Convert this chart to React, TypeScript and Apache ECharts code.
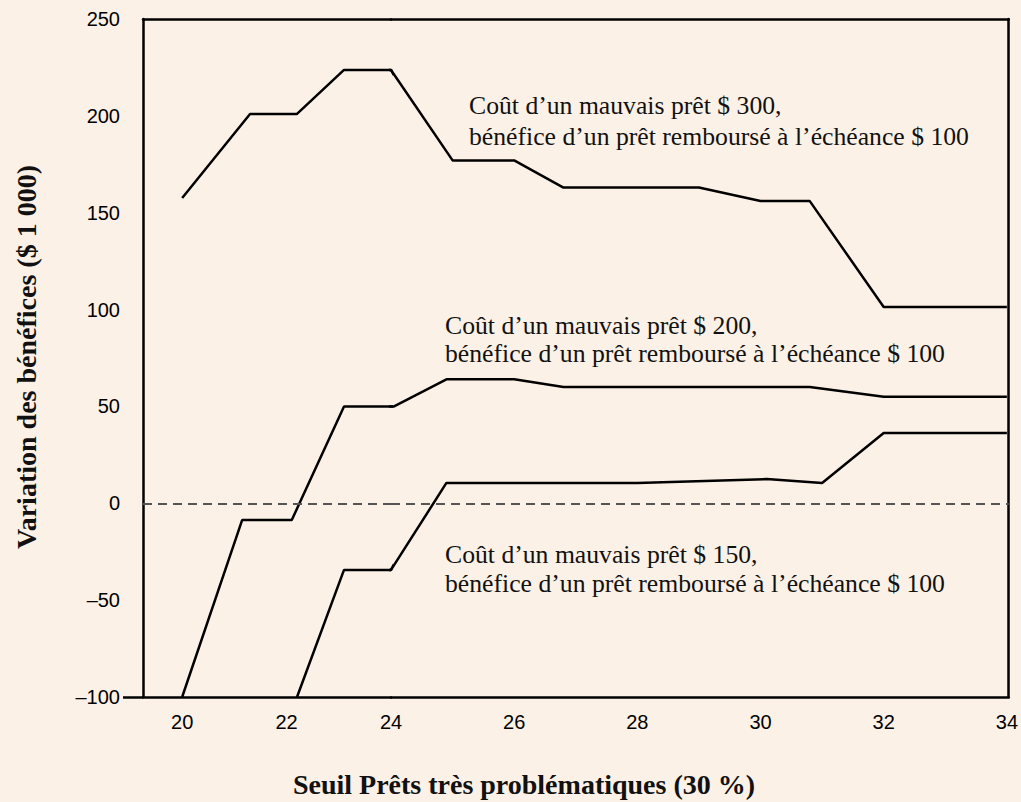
import React, { useEffect, useRef } from "react";
import * as echarts from "echarts";

// ---- data ----
// Curve: cost of a bad loan $300
const xTop = [20, 21.3, 22.2, 23.1, 24, 25, 26, 26.8, 29, 30, 30.8, 32, 34];
const yTop = [157.6, 201, 201, 223.7, 223.7, 177, 177, 163, 163, 156, 156, 101.3, 101.3];
// Curve: cost of a bad loan $200
const xMid = [20, 21.15, 22.1, 23.1, 24.05, 24.9, 26, 26.8, 30.8, 32, 34];
const yMid = [-100, -8.6, -8.6, 50, 50, 64, 64, 60, 60, 55, 55];
// Curve: cost of a bad loan $150
const xLow = [22.2, 23.1, 24, 24.9, 28, 30.1, 31, 32, 34];
const yLow = [-100, -34.4, -34.4, 10.5, 10.5, 12.5, 10.5, 36.3, 36.3];

const xTickValues = [20, 22, 24, 26, 28, 30, 32, 34];
const yMin = -100;
const yMax = 250;
const yStep = 50;
// the reference axis is drawn with two linear pieces, joined at this value
const xBreak = 24;
const xMinLeft = 19.25;
const xMaxRight = 34.03;

const annotationLines = [
  ["Coût d’un mauvais prêt $ 300,", "bénéfice d’un prêt remboursé à l’échéance $ 100"],
  ["Coût d’un mauvais prêt $ 200,", "bénéfice d’un prêt remboursé à l’échéance $ 100"],
  ["Coût d’un mauvais prêt $ 150,", "bénéfice d’un prêt remboursé à l’échéance $ 100"],
];
const xTitle = "Seuil Prêts très problématiques (30 %)";
const yTitle = "Variation des bénéfices ($ 1 000)";

const BG = "#FCF1E6";
const SANS = "'Liberation Sans', Arial, sans-serif";
const SERIF = "'Liberation Serif', 'Times New Roman', serif";

const toPairs = (xs: number[], ys: number[]) => xs.map((x, i) => [x, ys[i]]);

export default function App() {
  const ref = useRef<HTMLDivElement>(null);

  useEffect(() => {
    document.body.style.margin = "0";
    document.body.style.background = BG;
    if (!ref.current) return;
    const chart = echarts.init(ref.current, undefined, { renderer: "svg" });

    const lineStyle = { color: "#000", width: 2.5 };
    const frameLine = { show: true, onZero: false, lineStyle: { color: "#000", width: 2.5 } };
    const tickLabel = { color: "#000", fontSize: 20, fontFamily: SANS };

    const grids = [
      { left: 143, top: 19, width: 248, height: 678 },
      { left: 391, top: 19, width: 622, height: 678 },
    ];
    const ranges = [
      [xMinLeft, xBreak],
      [xBreak, xMaxRight],
    ];

    const xAxes: any[] = [];
    [0, 1].forEach((g) => {
      xAxes.push({
        gridIndex: g,
        type: "value",
        position: "bottom",
        min: ranges[g][0],
        max: ranges[g][1],
        axisLine: frameLine,
        axisTick: { show: false },
        splitLine: { show: false },
        axisLabel: {
          ...tickLabel,
          margin: 15,
          customValues: xTickValues.filter((v) => (g === 0 ? v < xBreak : v >= xBreak)),
        },
      });
    });
    [0, 1].forEach((g) => {
      xAxes.push({
        gridIndex: g,
        type: "value",
        position: "top",
        min: ranges[g][0],
        max: ranges[g][1],
        axisLine: frameLine,
        axisTick: { show: false },
        splitLine: { show: false },
        axisLabel: { show: false },
      });
    });

    const yAxes: any[] = [
      {
        gridIndex: 0,
        type: "value",
        position: "left",
        min: yMin,
        max: yMax,
        interval: yStep,
        axisLine: frameLine,
        axisTick: { show: true, customValues: [yMin], length: 20, lineStyle: { color: "#000", width: 2.5 } },
        splitLine: { show: false },
        axisLabel: {
          ...tickLabel,
          margin: 23,
          formatter: (v: number) => (v < 0 ? "–" + Math.abs(v) : String(v)),
        },
      },
      {
        gridIndex: 1,
        type: "value",
        position: "right",
        min: yMin,
        max: yMax,
        interval: yStep,
        axisLine: frameLine,
        axisTick: { show: false },
        splitLine: { show: false },
        axisLabel: { show: false },
      },
    ];

    const curves = [
      toPairs(xTop, yTop),
      toPairs(xMid, yMid),
      toPairs(xLow, yLow),
    ];

    const series: any[] = [];
    [0, 1].forEach((g) => {
      series.push({
        type: "line",
        xAxisIndex: g,
        yAxisIndex: g,
        data: [],
        silent: true,
        markLine: {
          silent: true,
          symbol: "none",
          label: { show: false },
          lineStyle: { color: "#555", width: 2, type: [9, 6] },
          data: [{ yAxis: 0 }],
        },
      });
      curves.forEach((c) => {
        series.push({
          type: "line",
          xAxisIndex: g,
          yAxisIndex: g,
          data: c,
          symbol: "none",
          showSymbol: false,
          clip: true,
          silent: true,
          z: 3,
          lineStyle,
        });
      });
    });

    const annPos = [
      { x: 469, y: [105, 136] },
      { x: 445, y: [325, 353] },
      { x: 445, y: [554, 583] },
    ];
    const graphics: any[] = [];
    annotationLines.forEach((lines, i) => {
      lines.forEach((t, j) => {
        graphics.push({
          type: "text",
          x: annPos[i].x,
          y: annPos[i].y[j],
          silent: true,
          style: {
            text: t,
            font: `25.7px ${SERIF}`,
            fill: "#111",
            textAlign: "left",
            textVerticalAlign: "middle",
          },
        });
      });
    });
    graphics.push({
      type: "text",
      x: 524,
      y: 784,
      silent: true,
      style: {
        text: xTitle,
        font: `bold 28px ${SERIF}`,
        fill: "#111",
        textAlign: "center",
        textVerticalAlign: "middle",
      },
    });
    graphics.push({
      type: "text",
      x: 26,
      y: 357,
      rotation: Math.PI / 2,
      silent: true,
      style: {
        text: yTitle,
        font: `bold 28px ${SERIF}`,
        fill: "#111",
        textAlign: "center",
        textVerticalAlign: "middle",
      },
    });

    chart.setOption({
      animation: false,
      backgroundColor: BG,
      grid: grids,
      xAxis: xAxes,
      yAxis: yAxes,
      series,
      graphic: graphics,
    });

    return () => chart.dispose();
  }, []);

  return <div ref={ref} style={{ width: 1021, height: 802 }} />;
}
